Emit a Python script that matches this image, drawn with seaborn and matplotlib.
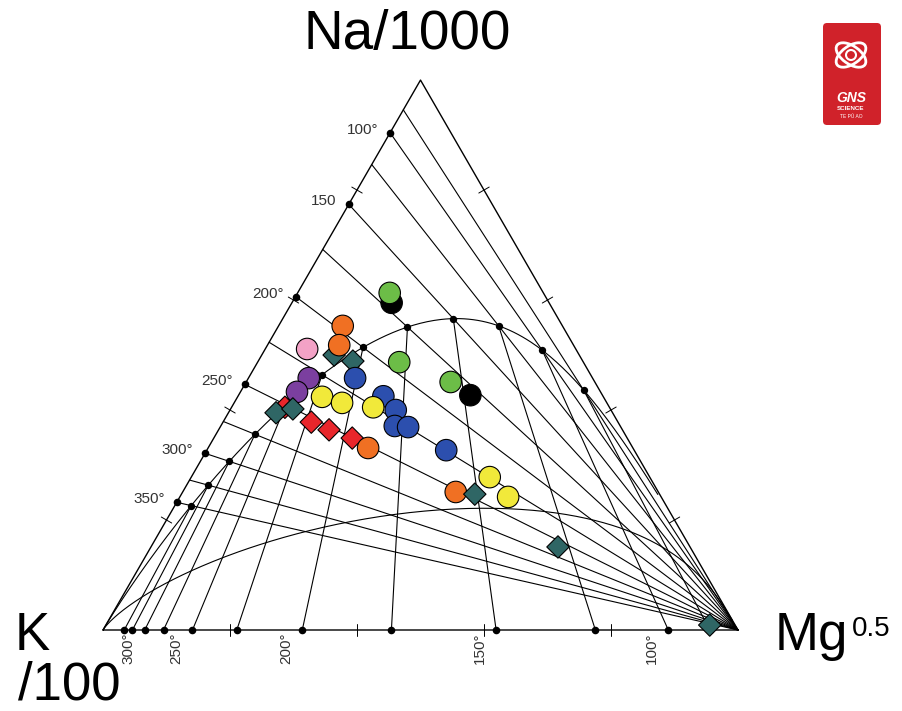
import numpy as np
import pandas as pd
import matplotlib
matplotlib.use("Agg")
import matplotlib.pyplot as plt
import matplotlib.transforms as mtransforms
from matplotlib.patches import FancyBboxPatch, Ellipse
import seaborn as sns

# ---------------- sample data (ternary %) ----------------
na_pct = [50.0, 48.9, 59.5, 61.3, 55.3, 51.8, 51.1, 45.8, 48.7, 45.1, 42.7, 40.5,
          45.8, 43.3, 39.5, 40.2, 42.4, 41.3, 42.5, 40.5, 40.0, 37.1, 36.9, 37.8,
          36.4, 34.9, 33.1, 32.7, 25.1, 24.7, 27.8, 24.2, 15.1, 0.9]
k_pct = [38.6, 36.2, 24.8, 24.2, 34.6, 36.9, 42.3, 37.4, 29.0, 22.7, 20.8, 51.1,
         44.7, 47.8, 53.0, 50.0, 44.3, 41.7, 34.6, 37.2, 33.9, 35.5, 33.5, 48.3,
         46.2, 43.3, 41.7, 29.6, 31.9, 29.1, 25.2, 24.1, 20.8, 4.0]
mg_pct = [11.4, 14.9, 15.7, 14.5, 10.1, 11.3, 6.6, 16.8, 22.3, 32.2, 36.5, 8.4,
          9.5, 8.9, 7.5, 9.8, 13.3, 17.0, 22.9, 22.3, 26.1, 27.4, 29.6, 13.9,
          17.4, 21.8, 25.2, 37.7, 43.0, 46.2, 47.0, 51.7, 64.1, 95.1]
group = ["teal", "teal", "black", "green", "orange", "orange", "pink", "blue",
         "green", "green", "black", "red", "purple", "purple", "teal", "teal",
         "yellow", "yellow", "blue", "yellow", "blue", "blue", "blue", "red",
         "red", "red", "orange", "blue", "orange", "teal", "yellow", "yellow",
         "teal", "teal"]
shape = ["diamond", "diamond", "circle", "circle", "circle", "circle", "circle",
         "circle", "circle", "circle", "circle", "diamond", "circle", "circle",
         "diamond", "diamond", "circle", "circle", "circle", "circle", "circle",
         "circle", "circle", "diamond", "diamond", "diamond", "circle", "circle",
         "circle", "diamond", "circle", "circle", "diamond", "diamond"]

palette = {"green": "#6cbd47", "black": "#000000", "orange": "#f07023",
           "pink": "#f3a2c6", "blue": "#2c4fae", "purple": "#7b3f9f",
           "yellow": "#f1e93a", "teal": "#2f6665", "red": "#e8262b"}

# ---------------- Giggenbach (1988) geothermometer constants ----------------
NAK_A, NAK_B = 1390.0, 1.75      # log(Na/K) = A/T - B
KMG_A, KMG_B = 14.0, 4410.0      # log(K^2/Mg) = A - B/T
MI_PARTIAL = 2.0                 # maturity index of the partial-equilibrium line

nak_temps = [75, 100, 125, 150, 175, 200, 225, 250, 275, 300, 325, 350]
nak_label_temps = [100, 150, 200, 250, 300, 350]
nak_labels = ["100°", "150", "200°", "250°", "300°", "350°"]
kmg_temps = [75, 100, 125, 150, 175, 200, 225, 250, 275, 300, 325, 350]
kmg_label_temps = [100, 150, 200, 250, 300]
kmg_labels = ["100°", "150°", "200°", "250°", "300°"]
eq_dot_temps = [75, 100, 125, 150, 175, 200, 225, 250, 275, 300, 325, 350]
edge_ticks = [0.2, 0.4, 0.6, 0.8]

H = np.sqrt(3) / 2


def tern(na, k, mg):
    na, k, mg = (np.asarray(v, dtype=float) for v in (na, k, mg))
    s = na + k + mg
    return (mg + 0.5 * na) / s, H * na / s


def nak_ratio(t):  # Na/1000 : K/100
    return 10 ** (NAK_A / (np.asarray(t, float) + 273.15) - NAK_B) / 10.0


def kmg_ratio(t):  # K/100 : sqrt(Mg)
    return 10 ** ((KMG_A - KMG_B / (np.asarray(t, float) + 273.15)) / 2) / 100.0


def eq_point(t):
    r1, r2 = nak_ratio(t), kmg_ratio(t)
    return tern(r1, np.ones_like(r1), 1.0 / r2)


sns.set_theme(style="white")
plt.rcParams["font.family"] = ["Liberation Sans", "DejaVu Sans"]
plt.rcParams["text.color"] = "black"

W, HGT = 903, 711
fig = plt.figure(figsize=(W / 100, HGT / 100), dpi=100)
ax = fig.add_axes([0, 0, 1, 1])
SC = 635.0  # pixels per unit side
ax.set_xlim(-103 / SC, (W - 103) / SC)
ax.set_ylim((630 - HGT) / SC, 630 / SC)
ax.axis("off")
px = 1.0 / SC

LW = 0.8
# triangle
tri_x, tri_y = tern([0, 0, 1, 0], [1, 0, 0, 1], [0, 1, 0, 0])
ax.plot(tri_x, tri_y, color="black", lw=1.0, zorder=2)

# Na-K isotherms: from K-Na side to Mg corner
for t in nak_temps:
    r = nak_ratio(t)
    x0, y0 = tern(r, 1, 0)
    ax.plot([x0, 1.0], [y0, 0.0], color="black", lw=LW, zorder=1)

# K-Mg isotherms: from K-Mg side to the full equilibrium curve
for t in kmg_temps:
    r = kmg_ratio(t)
    xb, yb = tern(0, r, 1)
    xe, ye = eq_point(t)
    ax.plot([xb, xe], [yb, ye], color="black", lw=LW, zorder=1)

# full equilibrium curve
tt = np.concatenate([np.linspace(25, 400, 300), np.geomspace(400, 5000, 200)])
ex, ey = eq_point(tt)
ax.plot(ex, ey, color="black", lw=LW, zorder=1)

# partial equilibrium curve (MI = 2.0)
lkm = np.linspace(-4, 13, 500)
kmg_r = 10 ** (lkm / 2) / 100.0
nak_r = 10 ** (MI_PARTIAL - 0.315 * lkm) / 10.0
pxs, pys = tern(nak_r, np.ones_like(lkm), 1.0 / kmg_r)
ax.plot(pxs, pys, color="black", lw=LW, zorder=1)

# dots
lx, ly = tern(nak_ratio(nak_label_temps), np.ones(len(nak_label_temps)), np.zeros(len(nak_label_temps)))
bx, by = tern(np.zeros(len(kmg_temps)), kmg_ratio(kmg_temps), np.ones(len(kmg_temps)))
qx, qy = eq_point(eq_dot_temps)
ax.scatter(lx, ly, s=30, color="black", zorder=3, linewidths=0)
ax.scatter(bx, by, s=30, color="black", zorder=3, linewidths=0)
ax.scatter(qx, qy, s=28, color="black", zorder=3, linewidths=0)

# edge ticks (20 % steps)
tl = 6 * px
for f in edge_ticks:
    for (na, k, mg, ang) in [(f, 1 - f, 0, 150), (f, 0, 1 - f, 30), (0, 1 - f, f, 90)]:
        cx, cy = tern(na, k, mg)
        dx, dy = np.cos(np.radians(ang)) * tl, np.sin(np.radians(ang)) * tl
        ax.plot([cx - dx, cx + dx], [cy - dy, cy + dy], color="black", lw=0.7, zorder=2)

# temperature labels
for x, y, lab in zip(lx, ly, nak_labels):
    ax.text(x - 12 * px, y + 3 * px, lab, ha="right", va="center", fontsize=11, color="#333333")
for t, lab in zip(kmg_label_temps, kmg_labels):
    x, y = tern(0, kmg_ratio(t), 1)
    ax.text(x - 16 * px, y - 3 * px, lab, rotation=90, ha="center", va="top",
            fontsize=11, color="#333333")

# samples
df = pd.DataFrame({"Na": na_pct, "K": k_pct, "Mg": mg_pct, "group": group, "shape": shape})
df["x"], df["y"] = tern(df["Na"], df["K"], df["Mg"])
sns.scatterplot(data=df, x="x", y="y", hue="group", palette=palette,
                style="shape", markers={"circle": "o", "diamond": "D"},
                size="shape", sizes={"circle": 240, "diamond": 130},
                edgecolor="black", linewidth=0.8, legend=False, zorder=5, ax=ax)
ax.set_xlabel("")
ax.set_ylabel("")

# corner titles
big = 38
ax.text(0.5 - 13 * px, H + 45 * px, "Na/1000", ha="center", va="center", fontsize=39.5, color="black")
ax.text(-88 * px, 0.0 - 20 * px, "K", ha="left", va="baseline", fontsize=big, color="black")
ax.text(-85 * px, -69 * px, "/100", ha="left", va="baseline", fontsize=big, color="black")
ax.text(1 + 37 * px, -20 * px, "Mg", ha="left", va="baseline", fontsize=big, color="black")
ax.text(1 + 114 * px, -6 * px, "0.5", ha="left", va="baseline", fontsize=20, color="black")

# logo
pix = mtransforms.Affine2D().scale(1 / W, -1 / HGT).translate(0, 1) + fig.transFigure
logo = FancyBboxPatch((823, 23), 58, 102, boxstyle="round,pad=0,rounding_size=4",
                      transform=pix, facecolor="#d0222a", edgecolor="none")
fig.add_artist(logo)
for ang in (35, -35):
    fig.add_artist(Ellipse((851, 55), 34, 18, angle=ang, transform=pix,
                           facecolor="none", edgecolor="white", lw=2.0))
fig.add_artist(Ellipse((851, 55), 10, 10, transform=pix, facecolor="none",
                       edgecolor="white", lw=1.5))
fig.text(851 / W, 1 - 98 / HGT, "GNS", ha="center", va="center", fontsize=10,
         fontweight="bold", style="italic", color="white")
fig.text(851 / W, 1 - 108 / HGT, "SCIENCE", ha="center", va="center", fontsize=4.5,
         fontweight="bold", color="white")
fig.text(851 / W, 1 - 116 / HGT, "TE PŪ AO", ha="center", va="center", fontsize=3.5,
         color="white")

fig.savefig("out.png", dpi=100)
